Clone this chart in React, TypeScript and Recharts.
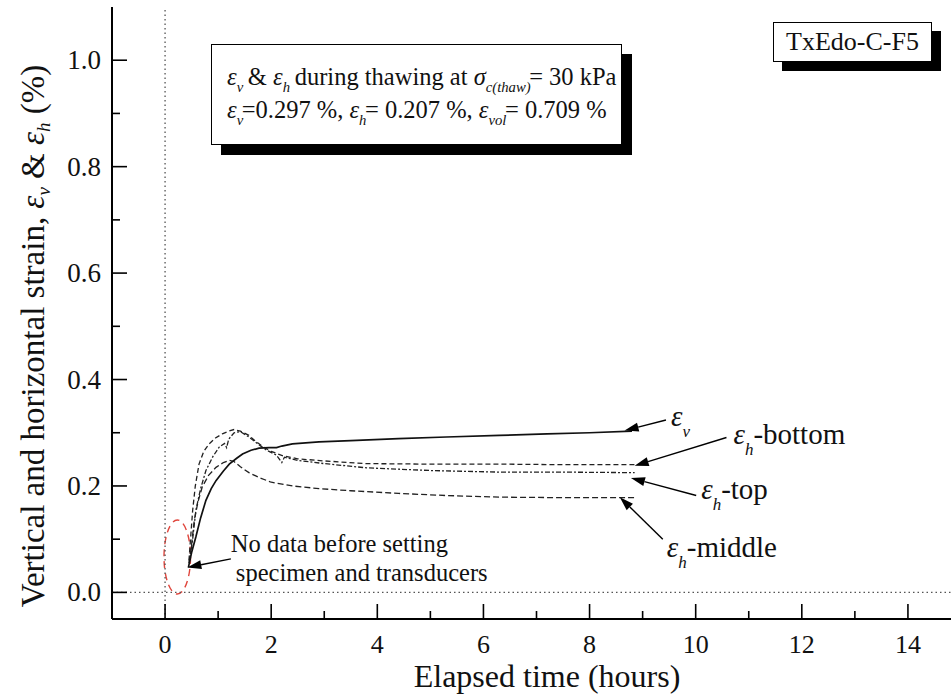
import React from 'react';
import { LineChart, Line, XAxis, YAxis, ReferenceLine, ReferenceArea } from 'recharts';

// elapsed time (hours) and strain (%)
const evTime = [0.44, 0.5, 0.58, 0.67, 0.77, 0.87, 0.96, 1.1, 1.21, 1.35, 1.46, 1.62, 1.77, 1.96, 2.1, 2.2, 2.4, 2.9, 3.5, 4.4, 5.3, 6.3, 7.2, 8.0, 8.8];
const evStrain = [0.047, 0.075, 0.104, 0.14, 0.173, 0.195, 0.21, 0.228, 0.241, 0.252, 0.26, 0.267, 0.271, 0.272, 0.272, 0.275, 0.279, 0.283, 0.285, 0.289, 0.292, 0.295, 0.298, 0.3, 0.303];

const bottomTime = [0.45, 0.48, 0.52, 0.57, 0.64, 0.73, 0.83, 0.95, 1.08, 1.2, 1.3, 1.42, 1.58, 1.72, 1.84, 2.0, 2.21, 2.5, 3.0, 3.8, 5.0, 6.3, 7.5, 8.85];
const bottomStrain = [0.06, 0.1, 0.154, 0.2, 0.241, 0.265, 0.279, 0.29, 0.298, 0.303, 0.306, 0.303, 0.295, 0.283, 0.274, 0.265, 0.257, 0.251, 0.247, 0.242, 0.241, 0.241, 0.24, 0.24];

const topTime = [0.46, 0.52, 0.58, 0.67, 0.77, 0.9, 1.02, 1.12, 1.16, 1.2, 1.3, 1.42, 1.58, 1.75, 1.9, 2.1, 2.2, 2.25, 2.5, 3.0, 3.8, 5.0, 6.3, 7.5, 8.85];
const topStrain = [0.06, 0.1, 0.154, 0.195, 0.229, 0.255, 0.273, 0.28, 0.272, 0.288, 0.3, 0.302, 0.292, 0.279, 0.268, 0.258, 0.244, 0.254, 0.248, 0.242, 0.234, 0.229, 0.226, 0.226, 0.225];

const middleTime = [0.45, 0.5, 0.55, 0.62, 0.7, 0.82, 0.96, 1.1, 1.21, 1.3, 1.42, 1.58, 1.77, 2.0, 2.4, 2.9, 3.5, 4.4, 5.3, 6.3, 7.5, 8.85];
const middleStrain = [0.055, 0.09, 0.135, 0.17, 0.198, 0.22, 0.235, 0.244, 0.248, 0.246, 0.236, 0.225, 0.216, 0.207, 0.2, 0.195, 0.191, 0.186, 0.182, 0.179, 0.178, 0.178];

const xTicks = [0, 1, 2, 3, 4, 5, 6, 7, 8, 9, 10, 11, 12, 13, 14];
const yTicks = [0, 0.1, 0.2, 0.3, 0.4, 0.5, 0.6, 0.7, 0.8, 0.9, 1.0];

// curve call-outs: arrow tail (label end) and tip (curve end)
const calloutTail = [[9.44, 0.324], [10.58, 0.291], [10.01, 0.182], [9.38, 0.1]];
const calloutTip = [[8.66, 0.304], [8.85, 0.238], [8.78, 0.215], [8.57, 0.179]];
const calloutSub = ['v', 'h', 'h', 'h'];
const calloutRest = ['', '-bottom', '-top', '-middle'];
const calloutOffset = [[5, 6], [7, 6], [5, 3], [4, 18]];

const noDataTail = [1.24, 0.063];
const noDataTip = [0.42, 0.047];
const noDataLines = ['No data before setting', 'specimen and transducers'];
const noDataRegion = { x1: -0.02, x2: 0.48, y1: -0.003, y2: 0.136 };

const SERIF = '"Liberation Serif", "Times New Roman", Times, serif';
const serif: React.CSSProperties = { fontFamily: SERIF };

const zip = (xs: number[], ys: number[]) => xs.map((x, i) => ({ x, y: ys[i] }));
const evData = zip(evTime, evStrain);
const bottomData = zip(bottomTime, bottomStrain);
const topData = zip(topTime, topStrain);
const middleData = zip(middleTime, middleStrain);

const isMajorX = (v: number) => v % 2 === 0;
const isMajorY = (v: number) => Math.round(v * 10) % 2 === 0;

function BottomTick(p: any) {
  const v = p.payload.value;
  const len = isMajorX(v) ? 15 : 8;
  return (
    <g>
      <line x1={p.x} y1={p.y} x2={p.x} y2={p.y - len} stroke="#000" strokeWidth={1.6} />
      {isMajorX(v) && (
        <text x={p.x} y={p.y + 34} textAnchor="middle" style={serif} fontSize={26} fill="#111">{v}</text>
      )}
    </g>
  );
}

function TopTick(p: any) {
  const len = isMajorX(p.payload.value) ? 15 : 9;
  return <line x1={p.x} y1={p.y} x2={p.x} y2={p.y + len} stroke="#000" strokeWidth={1.6} />;
}

function LeftTick(p: any) {
  const v = p.payload.value;
  const len = isMajorY(v) ? 15 : 8;
  return (
    <g>
      <line x1={p.x} y1={p.y} x2={p.x + len} y2={p.y} stroke="#000" strokeWidth={1.6} />
      {isMajorY(v) && (
        <text x={p.x - 11} y={p.y + 9} textAnchor="end" style={serif} fontSize={27} fill="#111">{v.toFixed(1)}</text>
      )}
    </g>
  );
}

function RightTick(p: any) {
  const len = isMajorY(p.payload.value) ? 15 : 8;
  return <line x1={p.x} y1={p.y} x2={p.x - len} y2={p.y} stroke="#000" strokeWidth={1.6} />;
}

function arrowShape(note: (x: number, y: number) => React.ReactNode) {
  return (p: any) => {
    const { x1, y1, x2, y2 } = p;
    const a = Math.atan2(y2 - y1, x2 - x1);
    const L = 14;
    const W = 4.5;
    const bx = x2 - L * Math.cos(a);
    const by = y2 - L * Math.sin(a);
    const px = -Math.sin(a) * W;
    const py = Math.cos(a) * W;
    return (
      <g>
        <line x1={x1} y1={y1} x2={bx} y2={by} stroke="#000" strokeWidth={1.4} />
        <polygon points={`${x2},${y2} ${bx + px},${by + py} ${bx - px},${by - py}`} fill="#000" />
        {note(x1, y1)}
      </g>
    );
  };
}

function ellipseShape(p: any) {
  return (
    <ellipse cx={p.x + p.width / 2} cy={p.y + p.height / 2} rx={p.width / 2} ry={p.height / 2}
      fill="none" stroke="#e0453c" strokeWidth={1.4} strokeDasharray="7 5" />
  );
}

const sub: React.CSSProperties = { fontSize: '0.6em', verticalAlign: '-0.5em', lineHeight: 0, fontStyle: 'italic', marginRight: '-0.1em' };

export default function App() {
  return (
    <div style={{ position: 'absolute', left: 0, top: 0, width: 951, height: 697, overflow: 'hidden', background: '#fff' }}>
      <LineChart width={975} height={697} margin={{ top: 7, right: 14, bottom: 0, left: 0 }}>
        <XAxis xAxisId="b" type="number" dataKey="x" domain={[-1, 15]} ticks={xTicks} interval={0}
          allowDataOverflow tickSize={0} tickMargin={0} tickLine={false} tick={BottomTick}
          axisLine={{ stroke: '#000', strokeWidth: 2 }} height={78}
          label={{
            content: () => (
              <text x={547} y={687} textAnchor="middle" style={serif} fontSize={32} fill="#111">Elapsed time (hours)</text>
            ),
          }} />
        <XAxis xAxisId="t" orientation="top" type="number" domain={[-1, 15]} ticks={xTicks} interval={0}
          allowDataOverflow tickSize={0} tickMargin={0} tickLine={false} tick={TopTick}
          axisLine={{ stroke: '#000', strokeWidth: 2 }} height={0} />
        <YAxis yAxisId="l" type="number" domain={[-0.05, 1.1]} ticks={yTicks} interval={0}
          allowDataOverflow tickSize={0} tickMargin={0} tickLine={false} tick={LeftTick}
          axisLine={{ stroke: '#000', strokeWidth: 2 }} width={112}
          label={{
            content: () => (
              <text transform="translate(33,336) rotate(-90)" textAnchor="middle" dominantBaseline="central"
                style={serif} fontSize={33} fill="#111">
                Vertical and horizontal strain,{' '}
                <tspan fontStyle="italic">ε</tspan>
                <tspan fontStyle="italic" fontSize={19} dy={10}>v</tspan>
                <tspan dy={-10}> &amp; </tspan>
                <tspan fontStyle="italic">ε</tspan>
                <tspan fontStyle="italic" fontSize={19} dy={10}>h</tspan>
                <tspan dy={-10}> (%)</tspan>
              </text>
            ),
          }} />
        <YAxis yAxisId="r" orientation="right" type="number" domain={[-0.05, 1.1]} ticks={yTicks} interval={0}
          allowDataOverflow tickSize={0} tickMargin={0} tickLine={false} tick={RightTick}
          axisLine={{ stroke: '#000', strokeWidth: 2 }} width={0} />

        <ReferenceLine xAxisId="b" yAxisId="l" x={0} stroke="#555" strokeWidth={1.3} strokeDasharray="1.5 3" />
        <ReferenceLine xAxisId="b" yAxisId="l" y={0} stroke="#555" strokeWidth={1.3} strokeDasharray="1.5 3" />

        <ReferenceArea xAxisId="b" yAxisId="l" {...noDataRegion} ifOverflow="visible" shape={ellipseShape} />

        <Line xAxisId="b" yAxisId="l" data={bottomData} dataKey="y" type="linear" dot={false}
          stroke="#222" strokeWidth={1.3} strokeDasharray="5 3" isAnimationActive={false} />
        <Line xAxisId="b" yAxisId="l" data={topData} dataKey="y" type="linear" dot={false}
          stroke="#222" strokeWidth={1.3} strokeDasharray="5 2 2 2" isAnimationActive={false} />
        <Line xAxisId="b" yAxisId="l" data={middleData} dataKey="y" type="linear" dot={false}
          stroke="#222" strokeWidth={1.3} strokeDasharray="6 3" isAnimationActive={false} />
        <Line xAxisId="b" yAxisId="l" data={evData} dataKey="y" type="linear" dot={false}
          stroke="#111" strokeWidth={1.7} isAnimationActive={false} />

        {calloutTail.map((t, i) => (
          <ReferenceLine key={i} xAxisId="b" yAxisId="l" ifOverflow="visible"
            segment={[{ x: t[0], y: t[1] }, { x: calloutTip[i][0], y: calloutTip[i][1] }]}
            shape={arrowShape((x, y) => (
              <text x={x + calloutOffset[i][0]} y={y + calloutOffset[i][1]} style={serif} fontSize={29} fill="#111">
                <tspan fontStyle="italic">ε</tspan>
                <tspan fontStyle="italic" fontSize={17} dy={11}>{calloutSub[i]}</tspan>
                <tspan dy={-11}>{calloutRest[i]}</tspan>
              </text>
            ))} />
        ))}

        <ReferenceLine xAxisId="b" yAxisId="l" ifOverflow="visible"
          segment={[{ x: noDataTail[0], y: noDataTail[1] }, { x: noDataTip[0], y: noDataTip[1] }]}
          shape={arrowShape((x, y) => (
            <g style={serif} fontSize={24.5} fill="#111">
              <text x={x} y={y - 7}>{noDataLines[0]}</text>
              <text x={x + 5} y={y + 22}>{noDataLines[1]}</text>
            </g>
          ))} />
      </LineChart>

      <div style={{
        position: 'absolute', left: 211, top: 44, width: 411, height: 101, boxSizing: 'border-box',
        border: '1.5px solid #000', boxShadow: '10px 10px 0 #000', background: '#fff',
        fontFamily: SERIF, fontSize: 24.5, lineHeight: '33px', color: '#111', padding: '15px 0 0 15px', whiteSpace: 'nowrap',
      }}>
        <div>
          <i>ε</i><span style={sub}>v</span> &amp; <i>ε</i><span style={sub}>h</span> during thawing at <i>σ</i><span style={sub}>c(thaw)</span>= 30 kPa
        </div>
        <div>
          <i>ε</i><span style={sub}>v</span>=0.297 %, <i>ε</i><span style={sub}>h</span>= 0.207 %, <i>ε</i><span style={sub}>vol</span>= 0.709 %
        </div>
      </div>

      <div style={{
        position: 'absolute', left: 773, top: 22, width: 159, height: 40, boxSizing: 'border-box',
        border: '1.5px solid #000', boxShadow: '9px 9px 0 #000', background: '#fff',
        fontFamily: SERIF, fontSize: 26, lineHeight: '37px', color: '#111', textAlign: 'center',
      }}>
        TxEdo-C-F5
      </div>
    </div>
  );
}
